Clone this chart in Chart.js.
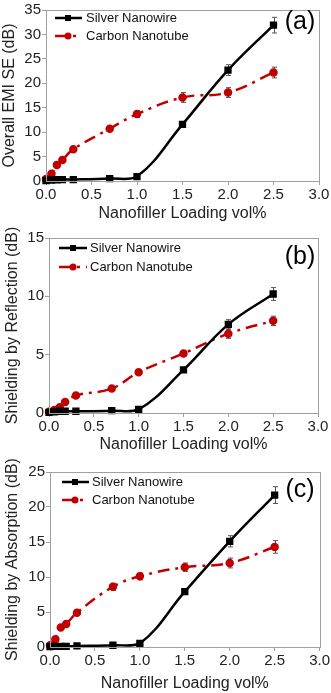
<!DOCTYPE html>
<html>
<head>
<meta charset="utf-8">
<script src="https://cdn.jsdelivr.net/npm/chart.js@4.4.1/dist/chart.umd.min.js"></script>
<style>
  html, body { margin: 0; padding: 0; background: #fff; }
  canvas { position: absolute; left: 0; }
</style>
</head>
<body>
<canvas id="chartA" width="331" height="226" style="top:0px"></canvas>
<canvas id="chartB" width="331" height="229" style="top:226px"></canvas>
<canvas id="chartC" width="331" height="238" style="top:455px"></canvas>
<script>
// loading (vol%) for both fillers
const loading = [0, 0.06, 0.12, 0.18, 0.3, 0.7, 1.0, 1.5, 2.0, 2.5];

// (a) overall EMI SE
const silverTotal = [0.1, 0.2, 0.25, 0.3, 0.3, 0.5, 0.9, 11.6, 22.7, 31.9];
const silverTotalErr = [0, 0, 0, 0, 0, 0.2, 0.3, 0.5, 1.1, 1.6];
const carbonTotal = [0.4, 1.5, 3.3, 4.3, 6.5, 10.7, 13.7, 17.1, 18.1, 22.2];
const carbonTotalErr = [0, 0, 0, 0, 0, 0.4, 0.7, 1.0, 1.0, 1.1];

// (b) shielding by reflection
const silverRefl = [0.05, 0.1, 0.15, 0.15, 0.15, 0.2, 0.3, 3.7, 7.6, 10.2];
const silverReflErr = [0, 0, 0, 0, 0, 0, 0.1, 0.15, 0.4, 0.55];
const carbonRefl = [0.1, 0.25, 0.5, 0.95, 1.5, 2.1, 3.5, 5.1, 6.8, 7.9];
const carbonReflErr = [0, 0, 0, 0, 0, 0, 0.1, 0.2, 0.4, 0.4];

// (c) shielding by absorption
const silverAbs = [0.05, 0.1, 0.1, 0.1, 0.15, 0.25, 0.5, 7.9, 15.1, 21.7];
const silverAbsErr = [0, 0, 0, 0, 0, 0, 0.2, 0.4, 0.8, 1.2];
const carbonAbs = [0.25, 1.1, 2.8, 3.3, 4.9, 8.6, 10.1, 11.4, 12.0, 14.3];
const carbonAbsErr = [0, 0, 0, 0, 0, 0.5, 0.5, 0.6, 0.7, 0.9];

const seriesNames = ['Silver Nanowire', 'Carbon Nanotube'];
const xTitle = 'Nanofiller Loading vol%';

const FONT = "'Liberation Sans', Arial, sans-serif";
const RED = '#c00000';
const GRAY = '#a0a0a0';
const CARBON_DASH = [12, 6, 3, 6];

const toPoints = (ys) => ys.map((y, i) => ({ x: loading[i], y }));

// error bars, plot box, legend and panel letter
const extras = {
  id: 'extras',
  beforeDatasetsDraw(chart) {
    const { ctx, scales: { x, y } } = chart;
    ctx.save();
    ctx.strokeStyle = '#555';
    ctx.lineWidth = 1;
    chart.data.datasets.forEach((ds) => {
      (ds.errors || []).forEach((e, i) => {
        if (!e) return;
        const p = ds.data[i];
        const px = Math.round(x.getPixelForValue(p.x)) + 0.5;
        const top = y.getPixelForValue(p.y + e);
        const bot = y.getPixelForValue(p.y - e);
        ctx.beginPath();
        ctx.moveTo(px, top); ctx.lineTo(px, bot);
        ctx.moveTo(px - 2.5, top); ctx.lineTo(px + 2.5, top);
        ctx.moveTo(px - 2.5, bot); ctx.lineTo(px + 2.5, bot);
        ctx.stroke();
      });
    });
    ctx.restore();
  },
  afterDraw(chart, args, opts) {
    const { ctx, chartArea: a } = chart;
    ctx.save();
    ctx.strokeStyle = GRAY;
    ctx.lineWidth = 1;
    ctx.strokeRect(Math.round(a.left) + 0.5, Math.round(a.top) + 0.5,
      Math.round(a.right - a.left), Math.round(a.bottom - a.top));

    // legend
    const lg = opts.legend;
    const ds = chart.data.datasets;
    [lg.y1, lg.y2].forEach((ly, i) => {
      const d = ds[i];
      ctx.strokeStyle = d.borderColor;
      ctx.lineWidth = 2.5;
      ctx.setLineDash(d.borderDash || []);
      ctx.beginPath();
      ctx.moveTo(lg.x0, ly); ctx.lineTo(lg.x1, ly);
      ctx.stroke();
      ctx.setLineDash([]);
      ctx.fillStyle = d.backgroundColor;
      ctx.beginPath();
      if (d.pointStyle === 'rect') ctx.rect(lg.xm - 3, ly - 3, 6, 6);
      else ctx.arc(lg.xm, ly, 3.5, 0, Math.PI * 2);
      ctx.fill();
      ctx.fillStyle = '#111';
      ctx.font = '13px ' + FONT;
      ctx.textBaseline = 'middle';
      ctx.textAlign = 'left';
      ctx.fillText(d.label, lg.xt, ly);
    });

    // panel letter
    ctx.fillStyle = '#000';
    ctx.font = '25px ' + FONT;
    ctx.textAlign = 'center';
    ctx.textBaseline = 'middle';
    ctx.fillText(opts.label, opts.labelX, opts.labelY);
    ctx.restore();
  }
};

function makePanel(id, cfg) {
  const ctx = document.getElementById(id).getContext('2d');
  return new Chart(ctx, {
    type: 'line',
    data: {
      datasets: [
        {
          label: seriesNames[0],
          data: toPoints(cfg.silver),
          errors: cfg.silverErr,
          borderColor: '#000',
          backgroundColor: '#000',
          borderWidth: 2.5,
          pointStyle: 'rect',
          pointRadius: 3.4,
          tension: 0.4,
          clip: false,
        },
        {
          label: seriesNames[1],
          data: toPoints(cfg.carbon),
          errors: cfg.carbonErr,
          borderColor: RED,
          backgroundColor: RED,
          borderWidth: 2.5,
          borderDash: CARBON_DASH,
          pointStyle: 'circle',
          pointRadius: 3,
          tension: 0.4,
          clip: false,
        },
      ],
    },
    options: {
      responsive: false,
      animation: false,
      layout: { padding: { top: cfg.padTop, right: cfg.padRight, bottom: cfg.padBottom, left: 0 } },
      plugins: {
        legend: { display: false },
        tooltip: { enabled: false },
        extras: { label: cfg.label, labelX: 300, labelY: cfg.labelY, legend: cfg.legend },
      },
      scales: {
        x: {
          type: 'linear',
          min: 0,
          max: 3,
          ticks: {
            stepSize: 0.5,
            padding: 1,
            color: '#222',
            font: { family: FONT, size: 15 },
            maxRotation: 0,
            callback: (v) => v.toFixed(1),
          },
          grid: { drawOnChartArea: false, drawTicks: true, tickLength: 4, color: GRAY },
          border: { color: GRAY },
          title: {
            display: true,
            text: xTitle,
            color: '#222',
            font: { family: FONT, size: 16 },
            padding: { top: 0, bottom: 0 },
          },
          afterFit: (s) => { s.height = cfg.xHeight; },
        },
        y: {
          min: 0,
          max: cfg.yMax,
          ticks: {
            stepSize: 5,
            padding: 1,
            color: '#222',
            font: { family: FONT, size: 15 },
          },
          grid: { drawOnChartArea: false, drawTicks: true, tickLength: 4, color: GRAY },
          border: { color: GRAY },
          title: {
            display: true,
            text: cfg.yTitle,
            color: '#222',
            font: { family: FONT, size: 16 },
            padding: { top: cfg.yTitlePad, bottom: 0 },
          },
          afterFit: (s) => { s.width = cfg.yWidth; },
        },
      },
    },
    plugins: [extras],
  });
}

makePanel('chartA', {
  silver: silverTotal, silverErr: silverTotalErr,
  carbon: carbonTotal, carbonErr: carbonTotalErr,
  yMax: 35, yTitle: 'Overall EMI SE (dB)',
  padTop: 4, padRight: 12, padBottom: 3, xHeight: 42, yWidth: 46, yTitlePad: 0,
  label: '(a)', labelY: 22,
  legend: { x0: 55, x1: 82, xm: 68, xt: 86, y1: 18, y2: 36 },
});

makePanel('chartB', {
  silver: silverRefl, silverErr: silverReflErr,
  carbon: carbonRefl, carbonErr: carbonReflErr,
  yMax: 15, yTitle: 'Shielding by Reflection (dB)',
  padTop: 12, padRight: 13, padBottom: 1, xHeight: 41, yWidth: 49, yTitlePad: 3,
  label: '(b)', labelY: 31,
  legend: { x0: 59, x1: 87, xm: 73, xt: 90, y1: 22, y2: 41 },
});

makePanel('chartC', {
  silver: silverAbs, silverErr: silverAbsErr,
  carbon: carbonAbs, carbonErr: carbonAbsErr,
  yMax: 25, yTitle: 'Shielding by Absorption (dB)',
  padTop: 17, padRight: 11, padBottom: 0, xHeight: 46, yWidth: 50, yTitlePad: 3,
  label: '(c)', labelY: 35,
  legend: { x0: 62, x1: 89, xm: 75, xt: 92, y1: 27, y2: 45 },
});
</script>
</body>
</html>
